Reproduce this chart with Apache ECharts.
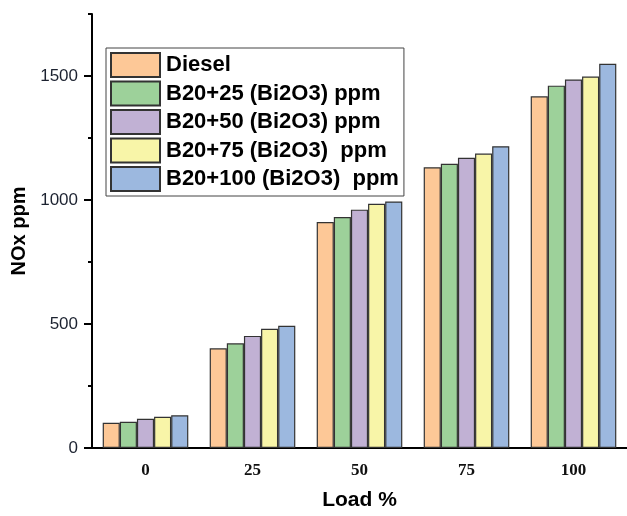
<!DOCTYPE html>
<html>
<head>
<meta charset="utf-8">
<script src="https://cdn.jsdelivr.net/npm/echarts@6/dist/echarts.min.js"></script>
<style>
  html, body { margin: 0; padding: 0; background: #fff; }
  #chart { width: 627px; height: 516px; }
</style>
</head>
<body>
<div id="chart"></div>
<script>
// Engine load (%) on the x axis
const loads = ['0', '25', '50', '75', '100'];

// NOx emission (ppm) per fuel blend
const diesel    = [102, 402, 911, 1132, 1418];
const b20_25    = [106, 422, 931, 1146, 1461];
const b20_50    = [118, 452, 961, 1170, 1486];
const b20_75    = [126, 481, 985, 1187, 1498];
const b20_100   = [132, 493, 994, 1217, 1549];

const seriesNames = [
  'Diesel',
  'B20+25 (Bi2O3) ppm',
  'B20+50 (Bi2O3) ppm',
  'B20+75 (Bi2O3)  ppm',
  'B20+100 (Bi2O3)  ppm'
];

// Y axis ticks
const yMajorTicks = [0, 500, 1000, 1500];
const yMinorTicks = [250, 750, 1250, 1750];
const yMax = 1750;

const colors = ['#FDC897', '#9DD19A', '#C1B1D4', '#F8F5A8', '#9CB8DF'];
const values = [diesel, b20_25, b20_50, b20_75, b20_100];

const sans = 'Arial, "Liberation Sans", sans-serif';
const serif = '"Times New Roman", "Liberation Serif", serif';

const chart = echarts.init(document.getElementById('chart'), null, { renderer: 'canvas' });

chart.setOption({
  animation: false,
  backgroundColor: '#fff',
  grid: { left: 92, top: 14, bottom: 67, width: 539 },
  legend: {
    orient: 'vertical',
    left: 106,
    top: 48,
    backgroundColor: '#fff',
    borderColor: '#444',
    borderWidth: 1,
    padding: [4, 5, 4, 4],
    itemWidth: 49,
    itemHeight: 24,
    itemGap: 2.5,
    icon: 'rect',
    textStyle: { fontFamily: sans, fontSize: 22, fontWeight: 'bold', color: '#000', lineHeight: 24, padding: [0, 0, 0, 1] },
    data: seriesNames
  },
  xAxis: [
    {
      type: 'category',
      data: loads,
      position: 'bottom',
      name: 'Load %',
      nameLocation: 'middle',
      nameGap: 42,
      nameTextStyle: { fontFamily: sans, fontSize: 21, fontWeight: 'bold', color: '#000' },
      axisLine: { lineStyle: { color: '#000', width: 2 } },
      axisTick: { alignWithLabel: true, length: 7, lineStyle: { color: '#000', width: 2 } },
      axisLabel: { fontFamily: serif, fontSize: 17, fontWeight: 'bold', color: '#111', margin: 14 },
      splitLine: { show: false }
    },
    {
      type: 'category',
      data: loads,
      position: 'bottom',
      axisLine: { show: false },
      axisTick: { alignWithLabel: false, length: 4, lineStyle: { color: '#000', width: 2 } },
      axisLabel: { show: false },
      splitLine: { show: false }
    }
  ],
  yAxis: [
    {
      type: 'value',
      min: 0,
      max: yMax,
      interval: 250,
      position: 'left',
      name: 'NOx ppm',
      nameLocation: 'middle',
      nameGap: 60,
      nameTextStyle: { fontFamily: sans, fontSize: 20, fontWeight: 'bold', color: '#000' },
      axisLine: { show: true, lineStyle: { color: '#000', width: 2 } },
      axisTick: { show: true, length: 8, customValues: yMajorTicks, lineStyle: { color: '#000', width: 2 } },
      axisLabel: {
        fontFamily: sans, fontSize: 17, color: '#1c2230', margin: 14,
        customValues: yMajorTicks,
        formatter: (v) => String(v)
      },
      splitLine: { show: false }
    },
    {
      type: 'value',
      min: 0,
      max: yMax,
      interval: 250,
      position: 'left',
      axisLine: { show: false },
      axisTick: { show: true, length: 4, customValues: yMinorTicks, lineStyle: { color: '#000', width: 2 } },
      axisLabel: { show: false },
      splitLine: { show: false }
    }
  ],
  series: seriesNames.map((name, i) => ({
    name: name,
    type: 'bar',
    xAxisIndex: 0,
    yAxisIndex: 0,
    data: values[i],
    barGap: '0%',
    barCategoryGap: '20%',
    itemStyle: { color: colors[i], borderColor: '#333', borderWidth: 1.2 }
  }))
});
</script>
</body>
</html>
